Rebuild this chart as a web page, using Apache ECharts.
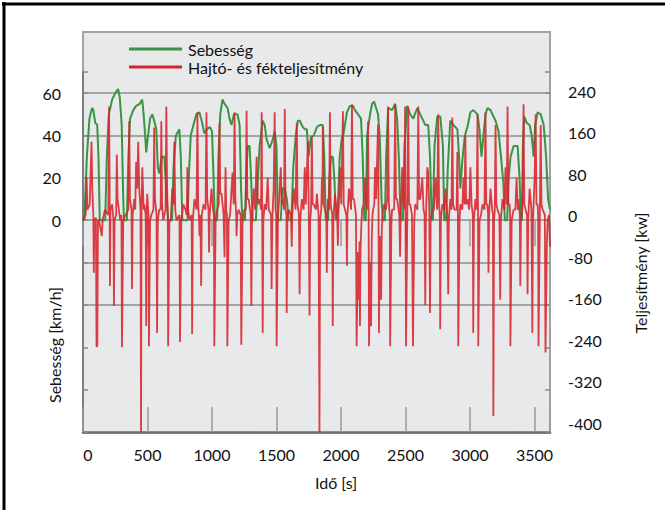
<!DOCTYPE html>
<html>
<head>
<meta charset="utf-8">
<script src="https://cdn.jsdelivr.net/npm/echarts@6/dist/echarts.min.js"></script>
<style>
html,body{margin:0;padding:0;background:#fff;}
#chart{width:665px;height:510px;}
</style>
</head>
<body>
<div id="chart"></div>
<script>
// ---- data ----
const speedTime = [0,10,30,50,70,80,95,110,120,130,172,185,200,226,250,272,285,300,312,318,340,352,365,390,412,440,459,470,482,490,500,520,537,552,568,580,591,610,630,645,660,690,702,720,747,758,770,810,820,835,856,879,902,920,940,960,985,1000,1012,1022,1040,1050,1064,1081,1097,1120,1136,1151,1170,1198,1214,1225,1235,1255,1265,1276,1291,1303,1315,1340,1352,1369,1393,1408,1424,1447,1470,1486,1500,1510,1533,1545,1564,1580,1595,1615,1630,1649,1665,1680,1704,1719,1735,1748,1766,1789,1813,1836,1859,1870,1882,1900,1910,1922,1937,1950,1960,1975,1990,2005,2020,2046,2069,2093,2108,2132,2155,2168,2180,2192,2202,2225,2241,2256,2272,2287,2300,2314,2325,2340,2350,2365,2396,2420,2435,2448,2462,2480,2492,2513,2536,2560,2591,2614,2630,2653,2676,2690,2703,2712,2725,2746,2770,2790,2800,2815,2828,2847,2871,2902,2915,2925,2940,2960,2980,3003,3026,3058,3073,3089,3104,3120,3135,3159,3182,3198,3221,3240,3258,3270,3288,3300,3314,3338,3369,3384,3395,3402,3410,3420,3439,3462,3478,3493,3505,3524,3548,3571,3590,3605,3620];
const speedKmh = [0,0,30,48,53,52,46,45,30,0,0,30,50,57,60,62,58,45,10,0,0,30,48,52,54,55,57,50,40,32,38,48,50,47,43,25,22,30,30,15,0,0,25,40,43,30,0,0,20,40,45,50,51,47,41,43,44,42,20,0,0,30,50,57,55,53,48,45,50,50,45,15,0,0,20,35,35,20,0,0,15,35,47,45,38,34,38,42,35,0,0,15,15,10,0,0,25,40,47,47,44,43,43,30,39,40,44,45,45,30,0,0,20,30,30,18,0,5,30,38,41,51,54,54,52,50,48,30,0,0,40,50,55,56,53,50,40,10,0,0,30,53,52,55,48,30,0,0,35,54,50,48,53,50,48,45,45,30,0,0,35,49,49,35,0,0,25,47,45,43,30,15,28,40,44,51,52,50,43,30,40,50,53,52,49,47,42,30,18,0,0,20,30,35,35,20,0,0,35,49,46,45,40,30,45,51,50,45,30,10,5];

const powerTime = [0,20,28,34,52,66,72,80,84,88,100,105,111,116,124,146,152,170,196,202,206,209,213,226,236,240,245,257,262,268,288,298,302,307,312,330,352,358,364,376,380,385,397,405,412,420,428,436,446,450,454,460,470,475,486,490,494,498,508,511,516,520,530,546,552,558,570,574,580,591,602,607,613,622,640,646,652,657,660,665,670,680,692,702,708,715,724,748,752,757,762,778,794,804,809,815,825,842,846,851,864,880,887,893,900,903,910,916,921,934,950,957,963,973,977,982,996,1008,1015,1018,1023,1028,1040,1052,1058,1064,1074,1090,1097,1101,1105,1110,1116,1119,1124,1129,1140,1159,1168,1175,1181,1188,1190,1196,1206,1222,1227,1232,1237,1250,1262,1268,1274,1284,1300,1305,1310,1323,1334,1346,1355,1369,1380,1385,1389,1393,1398,1408,1420,1432,1440,1458,1462,1467,1478,1486,1492,1498,1501,1506,1511,1520,1533,1540,1548,1558,1564,1570,1577,1579,1584,1595,1612,1618,1622,1634,1648,1657,1663,1674,1679,1684,1696,1710,1719,1727,1743,1750,1756,1761,1768,1774,1780,1789,1805,1813,1826,1833,1838,1847,1852,1856,1859,1866,1875,1886,1890,1894,1898,1908,1914,1920,1932,1936,1941,1953,1970,1976,1980,1992,2002,2015,2021,2031,2042,2046,2050,2062,2078,2085,2091,2101,2116,2121,2126,2131,2136,2140,2143,2147,2151,2156,2163,2175,2186,2195,2204,2210,2214,2217,2222,2227,2233,2238,2244,2249,2258,2264,2272,2287,2291,2294,2299,2305,2311,2316,2322,2334,2348,2358,2365,2371,2378,2381,2386,2391,2396,2412,2420,2426,2435,2452,2458,2463,2474,2482,2492,2497,2500,2504,2509,2514,2521,2527,2536,2550,2558,2563,2568,2575,2592,2599,2605,2614,2630,2640,2648,2653,2658,2669,2676,2684,2690,2695,2707,2720,2731,2745,2754,2760,2766,2769,2774,2785,2800,2809,2824,2831,2836,2847,2857,2863,2869,2879,2896,2902,2906,2909,2914,2919,2925,2940,2949,2958,2964,2970,2980,2994,3003,3012,3022,3025,3030,3042,3052,3058,3062,3064,3069,3074,3085,3097,3112,3120,3126,3135,3140,3143,3148,3159,3172,3178,3181,3186,3192,3198,3204,3213,3228,3234,3239,3252,3266,3275,3284,3291,3297,3307,3311,3313,3318,3323,3338,3352,3361,3370,3376,3386,3390,3395,3405,3409,3415,3421,3431,3442,3446,3451,3462,3476,3483,3488,3501,3509,3515,3524,3528,3531,3536,3541,3548,3554,3563,3580,3585,3590,3596,3602,3612,3620];
const powerKw = [0,10,80,20,30,148,60,10,-99,0,5,-238,-238,0,0,-30,0,20,10,215,80,-124,20,30,0,-162,0,10,124,40,0,10,-240,-240,0,10,20,187,40,20,-130,10,40,20,110,60,148,60,20,-400,30,100,20,30,10,-200,20,50,10,-238,-238,0,10,20,175,40,10,-213,0,20,20,187,30,0,20,215,60,10,-238,-238,0,0,60,30,148,20,0,10,-230,-230,0,30,20,10,100,20,0,10,-215,0,40,20,204,30,0,-30,10,-124,10,30,20,204,40,20,-61,10,60,20,10,-238,-238,0,20,30,183,50,50,10,-70,20,100,20,10,-238,-238,0,10,90,30,204,40,10,-30,10,20,10,-235,-235,0,20,20,207,40,40,10,-162,0,60,20,120,30,40,20,204,20,-213,0,30,20,80,20,10,-130,0,60,204,20,10,-238,-238,0,40,100,30,40,20,210,20,10,-175,0,20,10,-50,10,60,20,183,30,10,-140,0,40,20,100,30,150,20,-180,0,20,158,30,30,20,50,10,-400,0,20,80,30,177,30,20,10,-99,10,40,20,204,30,10,-200,0,50,10,-48,10,100,30,206,30,20,10,-86,10,60,20,219,40,40,10,-238,-238,-60,-120,-150,-40,-200,-60,-20,20,30,80,30,20,187,20,-238,-238,-80,-200,-40,10,20,30,100,40,181,20,-213,-80,-30,-150,-20,10,30,20,40,215,30,10,-238,-238,0,20,20,219,40,40,10,-69,10,100,30,20,215,20,-238,-238,10,215,30,30,10,-238,-238,0,30,20,215,40,40,80,20,10,-160,0,100,91,20,-175,0,20,20,80,20,200,30,10,-206,0,30,20,60,10,-140,0,40,20,194,30,20,20,129,10,-238,-238,0,30,20,80,30,160,30,40,20,100,30,10,-213,0,40,20,200,20,-238,-238,0,10,30,20,204,30,30,10,-99,10,60,20,10,-370,0,20,180,30,20,10,-150,0,40,20,100,30,215,30,30,10,-238,-238,0,20,20,80,20,40,10,-124,0,20,60,219,30,20,10,-140,0,60,20,-213,0,80,200,30,30,10,-238,-238,0,180,30,20,10,-250,-250,-40,0,10,-50];

const timeTicks = [0,500,1000,1500,2000,2500,3000,3500];
const speedTickLabels = [0,20,40,60];
const powerTickLabels = [240,160,80,0,-80,-160,-240,-320,-400];

const seriesNames = ['Sebesség','Hajtó- és fékteljesítmény'];
const xTitle = 'Idő [s]';
const leftTitle = 'Sebesség [km/h]';
const rightTitle = 'Teljesítmény [kw]';

// ---- chart ----
const chart = echarts.init(document.getElementById('chart'), null, {renderer:'svg'});
const FONT = 'Lato, "Noto Sans", sans-serif';
const speedData = speedTime.map((t,i)=>[t, speedKmh[i]]);
const powerData = powerTime.map((t,i)=>[t, powerKw[i]]);
const GREEN = '#3a9444';
const RED = '#d6242b';

const option = {
  backgroundColor:'#ffffff',
  animation:false,
  textStyle:{fontFamily:FONT},
  grid:[
    {left:83, top:72, width:467, height:360, containLabel:false},
    {left:83, top:91, width:467, height:332, containLabel:false}
  ],
  legend:{
    data:seriesNames,
    orient:'vertical',
    left:124, top:36,
    icon:'rect', itemWidth:53, itemHeight:3, itemGap:2,
    textStyle:{fontSize:16, color:'#111', fontFamily:FONT, lineHeight:16, padding:[0,0,0,1]},
    selectedMode:false
  },
  xAxis:[
    {type:'value', gridIndex:0, position:'bottom', min:0, max:3620, interval:500,
     axisLine:{show:true, onZero:false, lineStyle:{color:'#6f6f6f', width:2.5}},
     axisTick:{show:true, inside:true, length:25, lineStyle:{color:'#9a9a9a', width:1.5}},
     axisLabel:{fontSize:16, color:'#111', margin:14, fontFamily:FONT,
       formatter:v=> v===0 ? '{z|0}' : (timeTicks.indexOf(v)>=0 ? String(v) : ''),
       rich:{z:{fontSize:16, color:'#111', fontFamily:FONT, padding:[0,0,0,10]}}},
     splitLine:{show:false}},
    {type:'value', gridIndex:0, position:'top', min:0, max:3620, interval:500,
     axisLine:{show:false},
     axisTick:{show:true, inside:true, length:26, lineStyle:{color:'#9a9a9a', width:1.5}},
     axisLabel:{show:false}, splitLine:{show:false}},
    {type:'value', gridIndex:1, min:0, max:3620, show:false}
  ],
  yAxis:[
    {type:'value', gridIndex:0, position:'left', min:-100, max:70, interval:20,
     axisLine:{show:true, onZero:false, lineStyle:{color:'#7d7d7d', width:2}},
     axisTick:{show:true, inside:true, length:5, lineStyle:{color:'#8a8a8a', width:1.5}},
     axisLabel:{fontSize:16, color:'#111', margin:22, fontFamily:FONT,
       formatter:v=> speedTickLabels.indexOf(v)>=0 ? String(v) : ''},
     splitLine:{show:true, showMinLine:true, showMaxLine:true,
       lineStyle:{width:1.5, color:['rgba(0,0,0,0)','rgba(0,0,0,0)','rgba(0,0,0,0)','#8c8c8c','#8c8c8c','#8c8c8c','#8c8c8c','#8c8c8c','#8c8c8c','rgba(0,0,0,0)']}}},
    {type:'value', gridIndex:0, position:'right', min:-400, max:280, interval:80,
     axisLine:{show:true, onZero:false, lineStyle:{color:'#a0a0a0', width:2}},
     axisTick:{show:true, inside:true, length:5, lineStyle:{color:'#8a8a8a', width:1.5}},
     axisLabel:{show:false}, splitLine:{show:false}},
    {type:'value', gridIndex:1, position:'right', min:-400, max:240, interval:80,
     axisLine:{show:false}, axisTick:{show:false}, splitLine:{show:false},
     axisLabel:{fontSize:16, color:'#111', margin:18, fontFamily:FONT,
       formatter:v=> powerTickLabels.indexOf(v)>=0 ? String(v) : ''}}
  ],
  graphic:[
    {type:'rect', z:-10, silent:true, shape:{x:83, y:32, width:467, height:401},
     style:{fill:'#e8e9eb', stroke:'#a3a3a3', lineWidth:2}},
    {type:'line', z:10, silent:true, shape:{x1:2, y1:4, x2:665, y2:4}, style:{stroke:'#000', lineWidth:3}},
    {type:'line', z:10, silent:true, shape:{x1:4, y1:2, x2:4, y2:510}, style:{stroke:'#000', lineWidth:3}},
    {type:'text', z:10, silent:true, x:336, y:482,
     style:{text:xTitle, fontSize:16, fill:'#111', align:'center', verticalAlign:'middle', fontFamily:FONT}},
    {type:'text', z:10, silent:true, x:54, y:345, rotation:Math.PI/2,
     style:{text:leftTitle, fontSize:16, fill:'#111', align:'center', verticalAlign:'middle', fontFamily:FONT}},
    {type:'text', z:10, silent:true, x:640, y:273, rotation:Math.PI/2,
     style:{text:rightTitle, fontSize:16, fill:'#111', align:'center', verticalAlign:'middle', fontFamily:FONT}}
  ],
  series:[
    {name:seriesNames[0], type:'line', xAxisIndex:0, yAxisIndex:0, data:speedData,
     showSymbol:false, symbol:'none', z:2, color:GREEN,
     lineStyle:{color:GREEN, width:2}},
    {name:seriesNames[1], type:'line', xAxisIndex:0, yAxisIndex:1, data:powerData,
     showSymbol:false, symbol:'none', z:3, color:RED,
     lineStyle:{color:RED, width:1.8, opacity:0.88}}
  ]
};
chart.setOption(option);
</script>
</body>
</html>
